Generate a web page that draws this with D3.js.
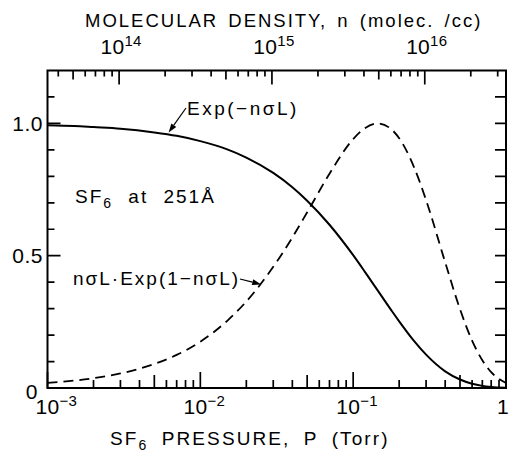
<!DOCTYPE html>
<html><head><meta charset="utf-8">
<script src="https://cdn.jsdelivr.net/npm/d3@7"></script>
<style>
body{margin:0;background:#fff}
svg{display:block}
text{font-family:"Liberation Sans",Arial,sans-serif;fill:#000}
</style>
</head><body><div id="chart"></div>
<script>
// ---- data ----
const pressure = [0.001,0.0015,0.002,0.003,0.005,0.007,0.01,0.015,0.02,0.03,0.04,0.05,0.07,0.1,0.12,0.145,0.18,0.2,0.25,0.3,0.4,0.5,0.6,0.7,0.8,1.0];
const transmission = [0.993,0.990,0.986,0.980,0.966,0.953,0.933,0.902,0.871,0.813,0.759,0.708,0.617,0.502,0.437,0.368,0.289,0.252,0.178,0.126,0.063,0.032,0.016,0.008,0.004,0.001];
const absorption = [0.019,0.028,0.037,0.055,0.091,0.125,0.175,0.254,0.327,0.458,0.569,0.664,0.810,0.941,0.983,1.000,0.975,0.944,0.835,0.710,0.475,0.298,0.179,0.105,0.060,0.019];
const pressureTicks = [0.001,0.01,0.1,1];
const pressureTickExp = ["-3","-2","-1",""];
const densityTicks = [1e14,1e15,1e16];
const densityTickExp = ["14","15","16"];
const yTickValues = [0,0.5,1.0];
const yTickLabels = ["0","0.5","1.0"];

const W = 510, H = 457;
const pLeft = 47.5, pRight = 506, pTop = 70.5, pBottom = 388;

const svg = d3.select("#chart").append("svg").attr("width", W).attr("height", H);

const x = d3.scaleLog().domain([1e-3, 1]).range([pLeft, pRight]);
const xTop = d3.scaleLog().domain([3.4e13, 3.4e16]).range([pLeft, pRight]);
const y = d3.scaleLinear().domain([0, 1.2]).range([pBottom, pTop]);

// ---- tick definitions ----
const pTicksAll = [];
for (let e = -3; e < 0; e++) for (let m = 2; m <= 9; m++) pTicksAll.push({v: m * Math.pow(10, e), len: m === 5 ? 13 : 8});
pressureTicks.forEach(v => pTicksAll.push({v: v, len: 16}));
const nTicksAll = [];
for (let e = 13; e <= 16; e++) for (let m = 2; m <= 9; m++) {
  const v = m * Math.pow(10, e);
  if (v > 3.4e13 && v < 3.4e16) nTicksAll.push({v: v, len: m === 5 ? 9 : 6});
}
densityTicks.forEach(v => nTicksAll.push({v: v, len: 14}));
const yTicksAll = d3.range(1, 12).map(i => ({v: i / 10, len: (i === 5 || i === 10) ? 13 : 7}));

// ticks as one path built from the scales
const tp = d3.path();
pTicksAll.forEach(d => { tp.moveTo(x(d.v), pBottom); tp.lineTo(x(d.v), pBottom - d.len); });
nTicksAll.forEach(d => { tp.moveTo(xTop(d.v), pTop); tp.lineTo(xTop(d.v), pTop + d.len); });
yTicksAll.forEach(d => { tp.moveTo(pLeft, y(d.v)); tp.lineTo(pLeft + d.len, y(d.v)); });
yTicksAll.forEach(d => { tp.moveTo(pRight, y(d.v)); tp.lineTo(pRight - 11, y(d.v)); });
svg.append("path").attr("d", tp.toString()).attr("fill", "none").attr("stroke", "#000").attr("stroke-width", 1.7);

// frame
svg.append("path")
  .attr("d", `M${pLeft},${pTop}H${pRight}V${pBottom}H${pLeft}Z`)
  .attr("fill", "none").attr("stroke", "#000").attr("stroke-width", 2);

// curves
const pts1 = pressure.map((p, i) => [p, transmission[i]]);
const pts2 = pressure.map((p, i) => [p, absorption[i]]);
const curveLine = d3.line().x(d => x(d[0])).y(d => y(d[1])).curve(d3.curveMonotoneX);
svg.append("path").attr("d", curveLine(pts1)).attr("fill", "none").attr("stroke", "#000").attr("stroke-width", 2);
svg.append("path").attr("d", curveLine(pts2)).attr("fill", "none").attr("stroke", "#000").attr("stroke-width", 1.8)
  .attr("stroke-dasharray", "10,6");

// tick labels
const tickFs = 21, expFs = 15;
function powLabel(px, py, exp, anchor) {
  const t = svg.append("text").attr("x", px).attr("y", py).attr("font-size", tickFs).attr("text-anchor", anchor)
    .attr("letter-spacing", 0.3);
  t.append("tspan").text(exp === "" ? "1" : "10");
  if (exp !== "") t.append("tspan").attr("font-size", expFs).attr("dy", -8).text(exp.replace("-", "\u2212"));
}
pressureTicks.forEach((v, i) => {
  if (i === 0) powLabel(x(v) - 12, 414, pressureTickExp[i], "start");
  else if (pressureTickExp[i] === "") powLabel(509, 414, "", "end");
  else powLabel(x(v) + 4, 414, pressureTickExp[i], "middle");
});
densityTicks.forEach((v, i) => powLabel(xTop(v) + 2, 54, densityTickExp[i], "middle"));

yTickValues.forEach((v, i) => {
  svg.append("text").attr("x", v === 0 ? 38 : 43).attr("y", y(v) + (v === 0 ? 3 : 0)).attr("dy", "0.36em")
    .attr("text-anchor", "end").attr("font-size", 21).attr("letter-spacing", 0.5).text(yTickLabels[i]);
});

// axis titles
svg.append("text").attr("x", 85).attr("y", 27).attr("font-size", 18.5).attr("letter-spacing", 2.0)
  .attr("word-spacing", 3).text("MOLECULAR DENSITY, n (molec. /cc)");

const bTitle = svg.append("text").attr("x", 110).attr("y", 445).attr("font-size", 19).attr("letter-spacing", 2.1)
  .attr("word-spacing", 6);
bTitle.append("tspan").text("SF");
bTitle.append("tspan").attr("font-size", 14).attr("dy", 5).text("6");
bTitle.append("tspan").attr("dy", -5).text(" PRESSURE, P (Torr)");

// annotations
const sTitle = svg.append("text").attr("x", 75).attr("y", 203).attr("font-size", 19).attr("letter-spacing", 2)
  .attr("word-spacing", 8);
sTitle.append("tspan").text("SF");
sTitle.append("tspan").attr("font-size", 14).attr("dy", 5).text("6");
sTitle.append("tspan").attr("dy", -5).text(" at 251\u00C5");

svg.append("text").attr("x", 187).attr("y", 115).attr("font-size", 19).attr("letter-spacing", 2.5)
  .text("Exp(\u2212n\u03C3L)");
svg.append("text").attr("x", 73).attr("y", 285).attr("font-size", 19).attr("letter-spacing", 2)
  .text("n\u03C3L\u00B7Exp(1\u2212n\u03C3L)");

// arrows (line + filled head as paths)
const arrows = [
  {from: [186, 108], to: [x(0.0062), y(0.958) - 2]},
  {from: [240, 279], to: [x(0.0254) - 1, y(0.399) + 2]}
];
arrows.forEach(a => {
  const [x1, y1] = a.from, [x2, y2] = a.to;
  const ang = Math.atan2(y2 - y1, x2 - x1), L = 9, hw = 3;
  const bx = x2 - L * Math.cos(ang), by = y2 - L * Math.sin(ang);
  svg.append("path").attr("d", `M${x1},${y1}L${bx},${by}`).attr("stroke", "#000").attr("stroke-width", 1.2).attr("fill", "none");
  svg.append("path")
    .attr("d", `M${x2},${y2}L${bx - hw * Math.sin(ang)},${by + hw * Math.cos(ang)}L${bx + hw * Math.sin(ang)},${by - hw * Math.cos(ang)}Z`)
    .attr("fill", "#000");
});
</script>
</body></html>
